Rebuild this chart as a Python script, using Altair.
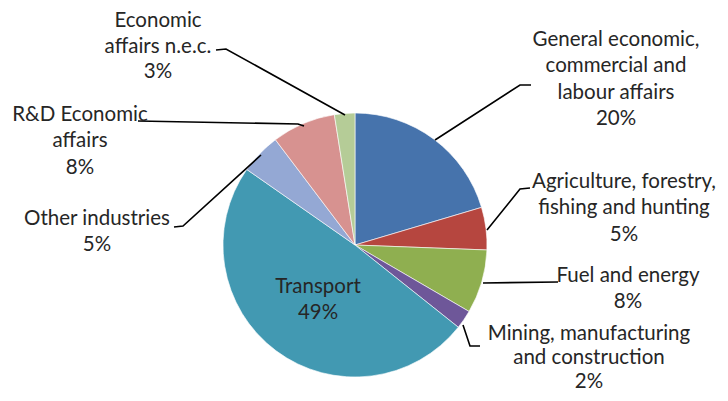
import altair as alt
import pandas as pd

# ---- data ----
categories = [
    "General economic, commercial and labour affairs",
    "Agriculture, forestry, fishing and hunting",
    "Fuel and energy",
    "Mining, manufacturing and construction",
    "Transport",
    "Other industries",
    "R&D Economic affairs",
    "Economic affairs n.e.c.",
]
values = [20.4, 5.2, 7.8, 2.3, 49.0, 5.0, 7.8, 2.5]
colors = ["#4673AC", "#B6463F", "#8FAF50", "#6E5799", "#4299B2", "#94A8D4", "#D79290", "#B5CC97"]

# label lines (text) for each category
label_lines = [
    ["General economic,", "commercial and", "labour affairs", "20%"],
    ["Agriculture, forestry,", "fishing and hunting", "5%"],
    ["Fuel and energy", "8%"],
    ["Mining, manufacturing", "and construction", "2%"],
    ["Transport", "49%"],
    ["Other industries", "5%"],
    ["R&D Economic", "affairs", "8%"],
    ["Economic", "affairs n.e.c.", "3%"],
]
# label anchor (centre x, first line y) in page pixels, and line spacing
label_x = [616, 624, 628, 589, 318, 97, 80, 158]
label_y = [40, 182, 276, 334, 287, 219, 115, 21]
label_gap = [26.3, 26.3, 26.3, 23.8, 26.3, 26.3, 26.3, 25.5]

# leader line points per category (page pixels)
leaders = {
    0: [(531, 85), (520, 85), (435, 140)],
    1: [(530, 188), (520, 189), (487, 230)],
    2: [(558, 282), (483, 283)],
    3: [(463, 325), (470, 346), (480, 346)],
    5: [(174, 227), (183, 226), (261, 155)],
    6: [(138, 121), (298, 124), (304, 126)],
    7: [(216, 50), (226, 49), (345, 115)],
}

# ---- tables ----
pie_df = pd.DataFrame({"category": categories, "value": values, "idx": range(len(categories))})

rows = []
for i, lines in enumerate(label_lines):
    for j, t in enumerate(lines):
        rows.append({"text": t, "x": label_x[i], "y": label_y[i] + j * label_gap[i]})
text_df = pd.DataFrame(rows)

lrows = []
for k, pts in leaders.items():
    for o, (px, py) in enumerate(pts):
        lrows.append({"grp": k, "o": o, "x": px, "y": py})
lead_df = pd.DataFrame(lrows)

W, H = 712, 385
xs = alt.Scale(domain=[8, 8 + W], nice=False, zero=False)
ys = alt.Scale(domain=[8, 8 + H], nice=False, zero=False, reverse=True)

pie = alt.Chart(pie_df).mark_arc(outerRadius=132, stroke="#ffffff", strokeWidth=0.6).encode(
    theta=alt.Theta("value:Q", stack=True),
    order=alt.Order("idx:Q"),
    color=alt.Color("category:N", scale=alt.Scale(domain=categories, range=colors), legend=None),
    x=alt.value(355 - 8),
    y=alt.value(245 - 8),
)

leader = alt.Chart(lead_df).mark_line(color="#000000", strokeWidth=1.6).encode(
    x=alt.X("x:Q", scale=xs, axis=None),
    y=alt.Y("y:Q", scale=ys, axis=None),
    detail="grp:N",
    order="o:Q",
)

labels = alt.Chart(text_df).mark_text(
    font="Lato", fontSize=20.5, color="#262626", align="center", baseline="middle"
).encode(
    x=alt.X("x:Q", scale=xs, axis=None),
    y=alt.Y("y:Q", scale=ys, axis=None),
    text="text:N",
)

chart = alt.layer(pie, leader, labels).properties(
    width=W, height=H, padding=0, autosize="none", background="#ffffff"
).configure_view(stroke=None)

chart.save("out.html", embed_options={"renderer": "svg", "actions": False})
